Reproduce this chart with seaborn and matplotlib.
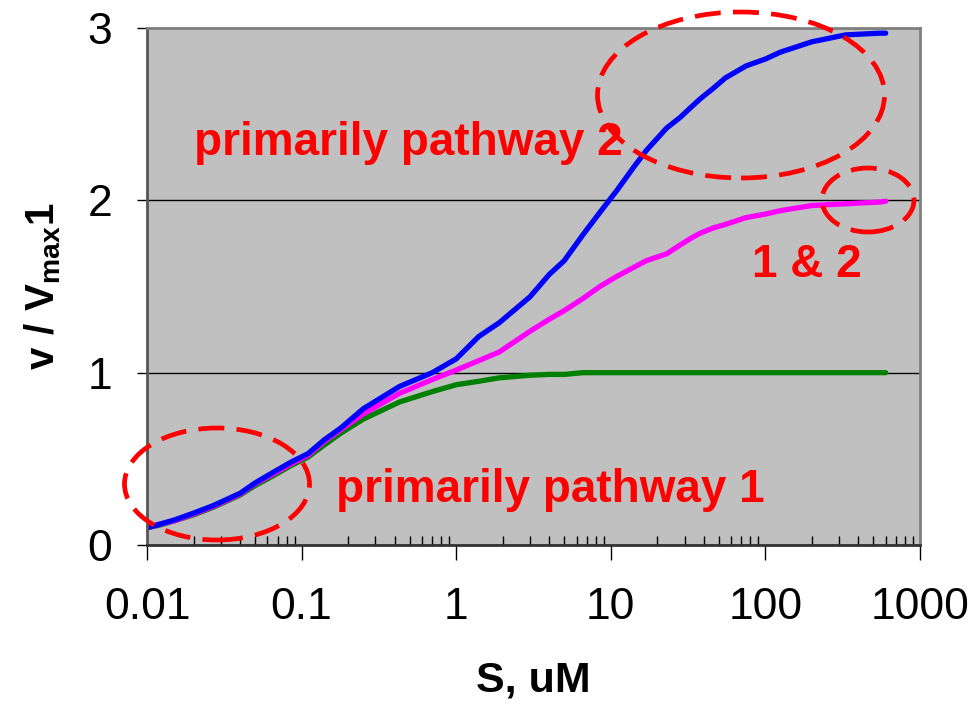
import numpy as np
import pandas as pd
import matplotlib
matplotlib.use("Agg")
import matplotlib.pyplot as plt
import matplotlib.ticker as mticker
from matplotlib.patches import Ellipse
import seaborn as sns

# -----------------------------
# Data
# -----------------------------
s_um = [0.01, 0.012, 0.015, 0.02, 0.027, 0.04, 0.05, 0.065, 0.085, 0.11,
        0.14, 0.18, 0.25, 0.43, 0.7, 1, 1.4, 1.9, 3, 4,
        5, 6.6, 8.5, 11, 14, 17, 23, 28, 33, 38, 46,
        55, 75, 100, 125, 200, 330, 550, 600]

pathway1 = [0.10, 0.115, 0.14, 0.175, 0.22, 0.29, 0.345, 0.40, 0.46, 0.51,
            0.58, 0.65, 0.73, 0.83, 0.89, 0.93, 0.95, 0.97, 0.985, 0.99,
            0.99, 1.0, 1.0, 1.0, 1.0, 1.0, 1.0, 1.0, 1.0, 1.0, 1.0,
            1.0, 1.0, 1.0, 1.0, 1.0, 1.0, 1.0, 1.0]

both_1_2 = [0.10, 0.12, 0.14, 0.18, 0.225, 0.295, 0.355, 0.41, 0.47, 0.52,
            0.60, 0.67, 0.76, 0.88, 0.96, 1.015, 1.07, 1.12, 1.24, 1.31,
            1.36, 1.43, 1.50, 1.56, 1.61, 1.65, 1.69, 1.74, 1.78, 1.81, 1.84,
            1.86, 1.90, 1.92, 1.94, 1.97, 1.98, 1.99, 1.995]

pathway2 = [0.10, 0.12, 0.145, 0.185, 0.23, 0.30, 0.36, 0.42, 0.48, 0.53,
            0.61, 0.68, 0.79, 0.92, 1.00, 1.08, 1.21, 1.29, 1.44, 1.57,
            1.65, 1.80, 1.93, 2.06, 2.19, 2.29, 2.42, 2.48, 2.54, 2.59, 2.65,
            2.71, 2.78, 2.82, 2.86, 2.92, 2.96, 2.97, 2.97]

x_ticks = [0.01, 0.1, 1, 10, 100, 1000]
x_tick_labels = ["0.01", "0.1", "1", "10", "100", "1000"]
y_ticks = [0, 1, 2, 3]

df = pd.DataFrame({"S": s_um, "p1": pathway1, "p12": both_1_2, "p2": pathway2})

# -----------------------------
# Style
# -----------------------------
sns.set_theme(style="white")
plt.rcParams["font.family"] = ["Liberation Sans", "DejaVu Sans"]
plt.rcParams["mathtext.fontset"] = "custom"
plt.rcParams["mathtext.bf"] = "Liberation Sans:bold"
plt.rcParams["mathtext.rm"] = "Liberation Sans"
plt.rcParams["text.color"] = "black"
plt.rcParams["axes.labelcolor"] = "black"
plt.rcParams["xtick.color"] = "black"
plt.rcParams["ytick.color"] = "black"

W, H = 970, 711
fig = plt.figure(figsize=(W / 100, H / 100), dpi=100)
ax = fig.add_axes([147 / W, 1 - 545 / H, (920 - 147) / W, (545 - 28) / H])
ax.set_facecolor("#C0C0C0")

# -----------------------------
# Curves
# -----------------------------
sns.lineplot(data=df, x="S", y="p1", color="#008000", linewidth=3.8, ax=ax)
sns.lineplot(data=df, x="S", y="p12", color="#FF00FF", linewidth=3.8, ax=ax)
sns.lineplot(data=df, x="S", y="p2", color="#0000FF", linewidth=3.8, ax=ax)

ax.set_xscale("log")
ax.set_xlim(0.01, 1000)
ax.set_ylim(0, 3)

ax.set_xticks(x_ticks)
ax.xaxis.set_major_formatter(mticker.FixedFormatter(x_tick_labels))
ax.xaxis.set_minor_locator(mticker.LogLocator(base=10, subs=np.arange(2, 10)))
ax.xaxis.set_minor_formatter(mticker.NullFormatter())
ax.set_yticks(y_ticks)

ax.tick_params(axis="x", which="major", direction="out", length=11, width=1,
               pad=19, labelsize=32, colors="black", bottom=True)
ax.tick_params(axis="x", which="minor", direction="in", length=6.5, width=1,
               bottom=True, color="black")
ax.tick_params(axis="y", which="major", direction="out", length=7, width=1,
               pad=18, labelsize=32, left=True, colors="black")

ax.grid(axis="y", color="black", linewidth=1)
ax.grid(axis="x", visible=False)

for side in ["top", "right"]:
    ax.spines[side].set_color("#808080")
    ax.spines[side].set_linewidth(2)
ax.spines["left"].set_color("#555555")
ax.spines["left"].set_linewidth(2)
ax.spines["bottom"].set_color("#333333")
ax.spines["bottom"].set_linewidth(2)

ax.set_xlabel("S, uM", fontsize=31, fontweight="bold", labelpad=24)
ax.set_ylabel(r"$\mathbf{v\ /\ V_{max}1}$", fontsize=29, labelpad=18)

# -----------------------------
# Annotations
# -----------------------------
red = "#FF0000"
fig.text(408 / W, 1 - 143 / H, "primarily pathway 2", color=red, fontsize=33,
         fontweight="bold", ha="center", va="center")
fig.text(550 / W, 1 - 490 / H, "primarily pathway 1", color=red, fontsize=33,
         fontweight="bold", ha="center", va="center")
fig.text(807 / W, 1 - 265 / H, "1 & 2", color=red, fontsize=33,
         fontweight="bold", ha="center", va="center")

for cx, cy, ew, eh in [(217, 484, 185, 112), (741, 95, 287, 166), (868, 200, 92, 64)]:
    e = Ellipse((cx / W, 1 - cy / H), ew / W, eh / H, transform=fig.transFigure,
                fill=False, edgecolor=red, linewidth=3.4, linestyle=(0, (5.5, 2.6)),
                clip_on=False)
    fig.patches.append(e)

fig.savefig("out.png", dpi=100)
